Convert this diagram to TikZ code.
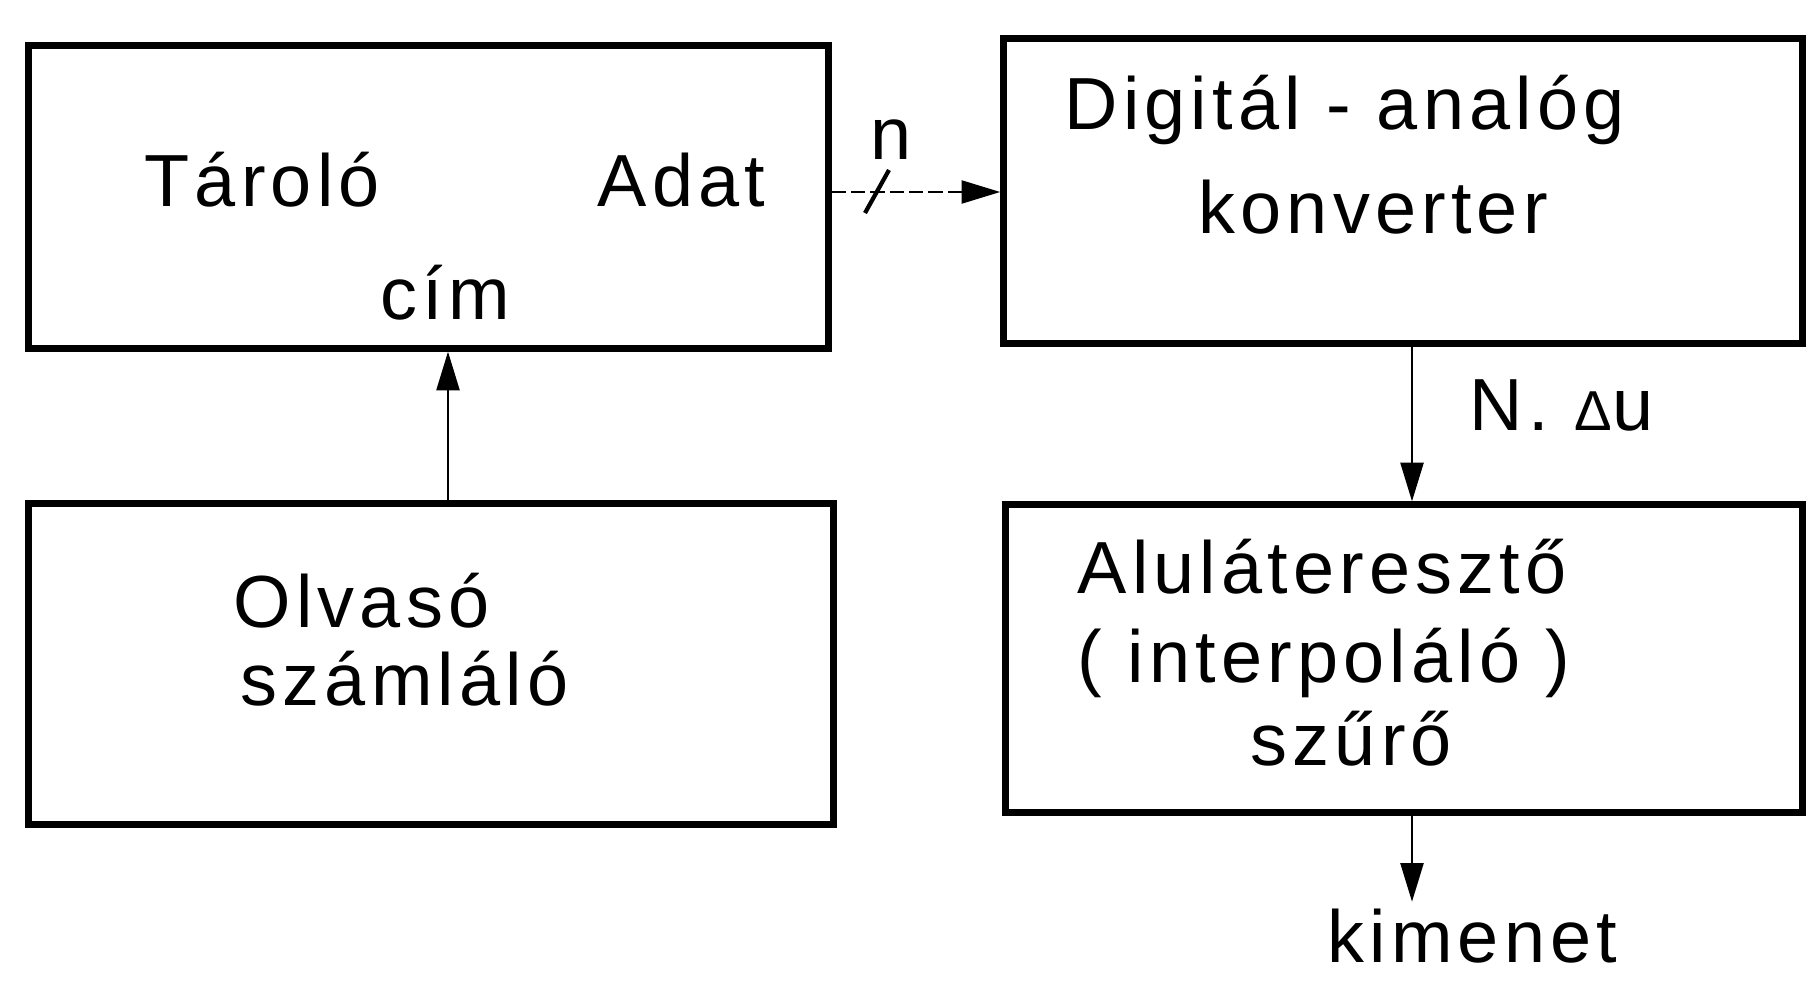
\documentclass[tikz,border=0pt]{standalone}
\usepackage{fontspec}
\setmainfont{Liberation Sans}[LetterSpace=7]
\usetikzlibrary{arrows.meta}
\begin{document}
\begin{tikzpicture}[x=0.01cm,y=-0.01cm,
  blk/.style={draw,line width=2pt,inner sep=0pt},
  lbl/.style={inner sep=0pt,font=\fontsize{21}{25}\selectfont},
  conn/.style={line width=0.8pt,-{Triangle[length=11pt,width=6.5pt]}},
  datal/.style={conn,dash pattern=on 4pt off 1.5pt}]
\useasboundingbox (0,0) rectangle (1809,985);
% blocks
\node[blk,minimum width=7.99cm,minimum height=3.02cm] (tar) at (428.5,197) {};
\node[blk,minimum width=8.04cm,minimum height=3.20cm] (olv) at (431,664) {};
\node[blk,minimum width=7.98cm,minimum height=3.04cm] (dac) at (1403,191) {};
\node[blk,minimum width=7.96cm,minimum height=3.07cm] (flt) at (1404,658.5) {};
% texts
\node[lbl,anchor=base west] (tarolo) at (144,207) {Tároló};
\node[lbl,anchor=base west] (adat) at (597,207) {Adat};
\node[lbl,anchor=base] (cim) at (445,320) {cím};
\node[lbl,anchor=base west] (olv1) at (233,627) {Olvasó};
\node[lbl,anchor=base west] (olv2) at (240,705) {számláló};
\node[lbl,anchor=base west] (dac1) at (1064,130) {Digitál - analóg};
\node[lbl,anchor=base west] (dac2) at (1198,233) {konverter};
\node[lbl,anchor=base west] (nu) at (1469,430) {N. \fontsize{16}{16}\selectfont Δ\fontsize{21}{25}\selectfont u};
\node[lbl,anchor=base west] (f1) at (1077,593) {Aluláteresztő};
\node[lbl,anchor=base west] (f2) at (1077,682) {( interpoláló )};
\node[lbl,anchor=base west] (f3) at (1250,765) {szűrő};
\node[lbl,anchor=base west] (kim) at (1327,962) {kimenet};
\node[lbl,anchor=base] (nlbl) at (891,160) {n};
% connectors
\coordinate (cx) at (448,0);
\coordinate (dy) at (0,192);
\coordinate (ax) at (1412,0);
\draw[conn] (olv.north -| cx) -- (tar.south -| cx);
\draw[datal] (tar.east |- dy) -- (dac.west |- dy);
\draw[line width=1.2pt] (865,213) -- (889,170);
\draw[conn] (dac.south -| ax) -- (flt.north -| ax);
\draw[conn,shorten >=0.06cm] (flt.south -| ax) -- (kim.north -| ax);
\end{tikzpicture}
\end{document}
